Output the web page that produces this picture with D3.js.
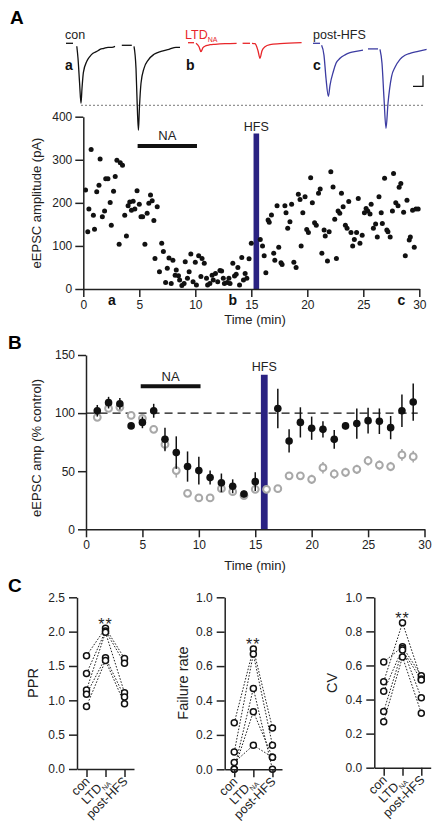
<!DOCTYPE html>
<html><head><meta charset="utf-8">
<script src="https://cdn.jsdelivr.net/npm/d3@7"></script>
<style>body{margin:0;background:#fff} svg{display:block;font-family:"Liberation Sans",Arial,Helvetica,sans-serif}</style>
</head><body><svg id="c" width="441" height="834"></svg>
<script>
// ---------------- DATA ----------------
// Panel A example traces (ms, pA), segments separated by artifact gaps
const traceCon = [
  [[0,0],[3.5,0]],
  [[5.4,-15],[6,-75],[6.8,-200],[7.5,-300],[8,-225],[8.7,-145],[10.4,-90],[12,-65],[13.5,-50],[15.5,-40],[17,-30],[19,-25],[21,-20],[23,-20],[24.5,-15]],
  [[27.9,-10],[32.9,-10]],
  [[34,-15],[35,-125],[35.5,-275],[36.2,-435],[36.7,-325],[37.5,-200],[39,-125],[41,-85],[44,-55],[47.5,-40],[51.5,-30],[55,-20],[57,-20]]
];
const traceLTD = [
  [[1.5,0],[4.5,0]],
  [[5.5,-3],[7,-20],[8,-45],[9,-25],[10.5,-15],[12.5,-10],[15,-8],[20,-5],[25.8,-3]],
  [[28.8,-3],[32.5,-3]],
  [[33.5,-3],[35,-5],[36.5,-40],[37.5,-78],[38.5,-40],[40,-20],[42.5,-10],[47.5,-5],[58.3,0]]
];
const tracePost = [
  [[0,0],[3.5,0]],
  [[4.3,-10],[5.5,-60],[6.5,-175],[7.7,-265],[8.5,-210],[10.2,-140],[11.5,-100],[13.5,-75],[16,-58],[18.5,-47],[21.5,-40],[25,-34]],
  [[27.5,-28],[32.5,-28]],
  [[33.5,-30],[34.5,-100],[35.5,-275],[36.5,-425],[37.5,-300],[39.3,-165],[41,-120],[43.5,-80],[46,-60],[48.5,-50],[52.5,-40],[56.8,-30]]
];

// Panel A time course: [time (min), eEPSC amplitude (pA)]
const ampTimeCourse = [
 [0.2,230],[0.4,133],[0.5,186],[0.7,324],[0.9,171],[1.0,139],[1.2,226],[1.4,241],[1.5,302],[1.7,168],[1.9,181],[2.0,256],[2.2,256],[2.4,201],[2.5,148],[2.7,227],[2.85,261],[3.0,299],[3.2,104],[3.3,293],[3.5,287],[3.7,171],[3.85,123],[4.0,193],[4.15,202],[4.3,183],[4.45,204],[4.6,186],[4.8,228],[5.0,197],[5.15,168],[5.3,168],[5.5,104],[5.7,176],[5.85,199],[6.0,218],[6.15,205],[6.3,159],[6.4,71],[6.6,191],[6.8,40],[7.0,106],[7.15,87],[7.35,15],[7.5,48],[7.65,72],[7.85,13],[8.0,67],[8.2,32],[8.3,44],[8.5,31],[8.6,21],[8.8,8],[9.0,13],[9.1,63],[9.3,25],[9.45,40],[9.6,81],[9.8,17],[10.0,62],[10.1,9],[10.3,77],[10.5,29],[10.6,71],[10.8,60],[11.0,25],[11.1,9],[11.3,13],[11.5,32],[11.6,21],[11.8,36],[12.0,17],
 [12.2,43],[12.35,42],[12.5,25],[12.6,13],[12.85,15],[13.0,25],[13.1,13],[13.35,60],[13.5,30],[13.65,34],[13.8,50],[13.95,9],[14.15,73],[14.3,21],[14.45,36],[14.6,25],[14.8,70],[15.0,106],
 [15.8,115],[16.0,100],[16.15,77],[16.3,38],[16.5,160],[16.6,155],[16.8,172],[17.0,83],[17.1,67],[17.3,193],[17.45,97],[17.65,61],[17.75,57],[18.0,193],[18.1,177],[18.25,141],[18.45,156],[18.6,197],[18.8,62],[19.0,50],[19.2,220],[19.35,208],[19.45,100],[19.6,177],[19.8,214],[19.95,138],[20.1,131],[20.3,258],[20.45,200],[20.65,154],[20.8,148],[21.0,222],[21.15,232],[21.3,83],[21.5,137],[21.6,123],[21.8,65],[21.95,133],[22.1,272],[22.3,237],[22.45,162],[22.6,71],[22.75,181],[22.9,176],[23.05,222],[23.2,191],[23.4,148],[23.55,141],[23.7,203],[23.9,131],[24.05,100],[24.2,115],[24.4,131],[24.55,210],[24.7,106],[24.9,125],[25.1,177],[25.25,187],[25.4,181],[25.6,174],[25.7,197],[25.9,141],[26.1,151],[26.25,121],[26.4,214],[26.6,177],[26.7,152],[26.9,257],[27.1,137],[27.2,133],[27.4,121],[27.6,181],[27.7,268],[27.9,200],[28.1,193],[28.2,236],[28.35,245],[28.6,178],[28.75,77],[28.9,206],[29.1,114],[29.2,121],[29.4,183],[29.55,97],[29.7,186],[29.9,186]
];
const naPeriod = [4.85, 10.15];
const hfsPeriodA = [15.2, 15.7];
const markLetters = [["a",2.55],["b",13.35],["c",28.4]];
const ticksA_y = [0,100,200,300,400];
const ticksTime = [0,5,10,15,20,25,30];

// Panel B: normalized eEPSC amplitude (% control)
const bBlackTime = [1,2,3,4,5,6,7,8,9,10,11,12,13,14,15,17,18,19,20,21,22,23,24,25,26,27,28,29];
const bBlackMean = [102,109,108,89,92,102,77.5,66,54,50.5,44.5,40,37,30.4,41,104,76,92,87,86,77.4,89,91,93.5,93,87.5,102,109.5];
const bBlackErr  = [5,5,5,2,5,6,10,14,13,12,6,8,6,3,8,17,10,13,10,7,8,3,13,11,11,10,14,16];
const bGrayTime = [1,2,3,4,5,6,7,8,9,10,11,12,13,14,15,16,17,18,19,20,21,22,23,24,25,26,27,28,29];
const bGrayMean = [96.4,104,105,98,95.5,86,73,50.5,31,27,27,35,32.4,29,34.4,34.4,35,46,46,43,53,47.6,49,51.6,59,55.3,54,64,62.5];
const bGrayErr  = [3,2,2,2,2,3,6,6,3,2,2,3,3,3,3,3,3,3,3,4,5,4,4,4,4,4,4,5,5];
const hfsPeriodB = [15.5, 16.1];
const ticksB_y = [0,50,100,150];

// Panel C: per-cell values [con, LTD_NA, post-HFS]
const conditions = ["con","LTD","post-HFS"];
const pprCells = [[1.65,2.05,1.61],[1.39,2.01,1.54],[1.15,1.99,1.11],[1.09,1.62,1.05],[0.91,1.58,0.95]];
const failCells = [[0.27,0.70,0.24],[0.10,0.67,0.14],[0.00,0.47,0.00],[0.00,0.335,0.07],[0.04,0.14,0.07]];
const cvCells = [[0.62,0.71,0.54],[0.505,0.85,0.52],[0.448,0.70,0.41],[0.33,0.69,0.515],[0.27,0.65,0.32]];
const pprTicks = [0,0.5,1.0,1.5,2.0,2.5];
const fracTicks = [0,0.2,0.4,0.6,0.8,1.0];

// ---------------- DRAW ----------------
const svg = d3.select("#c");
const INK = "#222";
const NAVY = "#2a2282";

function styleAxis(g, fs){
  g.selectAll("path,line").attr("stroke",INK).attr("stroke-width",1.5);
  g.selectAll("text").attr("fill",INK).attr("font-size",fs||12).attr("font-family",'"Liberation Sans",Arial,sans-serif');
}
function label(x,y,txt,opt){
  opt=opt||{};
  const t=svg.append("text").attr("x",x).attr("y",y).text(txt)
    .attr("font-size",opt.fs||13).attr("fill",opt.fill||INK)
    .attr("text-anchor",opt.anchor||"middle")
    .attr("font-weight",opt.bold?"bold":"normal");
  if(opt.rot) t.attr("transform",`rotate(${opt.rot},${x},${y})`);
  return t;
}

// Panel letters
label(10,24,"A",{fs:19,bold:true,anchor:"start",fill:"#000"});
label(8,349,"B",{fs:19,bold:true,anchor:"start",fill:"#000"});
label(8,592,"C",{fs:19,bold:true,anchor:"start",fill:"#000"});

// ---- Traces ----
function drawTrace(data,left,base,color){
  const x=d3.scaleLinear().domain([0,57.5]).range([left,left+115]);
  const y=d3.scaleLinear().domain([0,-500]).range([base,base+100]);
  const line=d3.line().x(d=>x(d[0])).y(d=>y(d[1])).curve(d3.curveMonotoneX);
  data.forEach(seg=>{
    svg.append("path").attr("d",line(seg)).attr("fill","none")
      .attr("stroke",color).attr("stroke-width",1.3).attr("stroke-linejoin","round");
  });
  return {x,y};
}
// dashed reference line at con first-peak level
svg.append("line").attr("x1",81).attr("x2",425).attr("y1",105.3).attr("y2",105.3)
  .attr("stroke","#555").attr("stroke-width",0.8).attr("stroke-dasharray","2,2");
drawTrace(traceCon,66,43.3,"#111");
drawTrace(traceLTD,185,42.7,"#e8262a");
const tp = drawTrace(tracePost,313,43.3,"#3c3ca2");
label(65,38.5,"con",{fs:12.5,anchor:"start"});
const ltdT = label(185,38.5,"LTD",{fs:12.5,anchor:"start",fill:"#e8262a"});
ltdT.append("tspan").attr("font-size",7).attr("dy",3).text("NA");
label(313,38.5,"post-HFS",{fs:12.5,anchor:"start"});
label(65,70,"a",{fs:14,bold:true,anchor:"start",fill:"#111"});
label(186,70,"b",{fs:14,bold:true,anchor:"start",fill:"#111"});
label(313,70,"c",{fs:14,bold:true,anchor:"start",fill:"#111"});
// scale bar
svg.append("path").attr("d",`M${tp.x(50)},${tp.y(-215)}H${tp.x(55)}V${tp.y(-160)}`)
  .attr("fill","none").attr("stroke","#111").attr("stroke-width",1.3);

// ---- Panel A time course ----
const xA=d3.scaleLinear().domain([0,30]).range([83.3,419.3]);
const yA=d3.scaleLinear().domain([0,400]).range([289,116.7]);
// HFS bar
svg.append("rect").attr("x",xA(hfsPeriodA[0])).attr("width",xA(hfsPeriodA[1])-xA(hfsPeriodA[0]))
  .attr("y",yA(361)).attr("height",yA(0)-yA(361)).attr("fill",NAVY);
label((xA(hfsPeriodA[0])+xA(hfsPeriodA[1]))/2,130.5,"HFS",{fs:12.5});
// NA bar
svg.append("line").attr("x1",xA(naPeriod[0])).attr("x2",xA(naPeriod[1])).attr("y1",yA(332)).attr("y2",yA(332))
  .attr("stroke","#111").attr("stroke-width",4);
label(xA((naPeriod[0]+naPeriod[1])/2),140,"NA",{fs:13});
// dots
svg.append("g").selectAll("circle").data(ampTimeCourse).join("circle")
  .attr("cx",d=>xA(d[0])).attr("cy",d=>yA(d[1])).attr("r",2.5).attr("fill","#111");
// axes
const gAy=svg.append("g").attr("transform",`translate(${xA(0)},0)`)
  .call(d3.axisLeft(yA).tickValues(ticksA_y).tickSize(8).tickSizeOuter(0).tickPadding(3));
styleAxis(gAy);
const gAx=svg.append("g").attr("transform",`translate(0,${yA(0)})`)
  .call(d3.axisBottom(xA).tickValues(ticksTime).tickSize(8).tickSizeOuter(0).tickPadding(3));
styleAxis(gAx);
markLetters.forEach(m=>label(xA(m[1]),305,m[0],{fs:14,bold:true,fill:"#111"}));
label(255,324,"Time (min)",{fs:13});
label(41,203,"eEPSC amplitude (pA)",{fs:13,rot:-90});

// ---- Panel B ----
const xB=d3.scaleLinear().domain([0,30]).range([86,424.5]);
const yB=d3.scaleLinear().domain([0,150]).range([529.3,355]);
svg.append("line").attr("x1",xB(0.05)).attr("x2",xB(29.4)).attr("y1",yB(100)).attr("y2",yB(100))
  .attr("stroke","#111").attr("stroke-width",1.4).attr("stroke-dasharray","8,5");
svg.append("rect").attr("x",xB(hfsPeriodB[0])).attr("width",xB(hfsPeriodB[1])-xB(hfsPeriodB[0]))
  .attr("y",yB(133)).attr("height",yB(0)-yB(133)).attr("fill",NAVY);
label((xB(hfsPeriodB[0])+xB(hfsPeriodB[1]))/2,370.5,"HFS",{fs:12.5});
svg.append("line").attr("x1",xB(naPeriod[0])).attr("x2",xB(naPeriod[1])).attr("y1",yB(123)).attr("y2",yB(123))
  .attr("stroke","#111").attr("stroke-width",4);
label(xB((naPeriod[0]+naPeriod[1])/2),381,"NA",{fs:13});
// gray series
const gray=bGrayTime.map((t,i)=>({t,m:bGrayMean[i],e:bGrayErr[i]}));
const black=bBlackTime.map((t,i)=>({t,m:bBlackMean[i],e:bBlackErr[i]}));
svg.append("g").selectAll("line").data(gray).join("line")
  .attr("x1",d=>xB(d.t)).attr("x2",d=>xB(d.t)).attr("y1",d=>yB(d.m-d.e)).attr("y2",d=>yB(d.m+d.e))
  .attr("stroke","#a8a8a8").attr("stroke-width",1.6);
svg.append("g").selectAll("circle").data(gray).join("circle")
  .attr("cx",d=>xB(d.t)).attr("cy",d=>yB(d.m)).attr("r",3.4).attr("fill","#fff")
  .attr("stroke","#a8a8a8").attr("stroke-width",2);
svg.append("g").selectAll("line").data(black).join("line")
  .attr("x1",d=>xB(d.t)).attr("x2",d=>xB(d.t)).attr("y1",d=>yB(d.m-d.e)).attr("y2",d=>yB(d.m+d.e))
  .attr("stroke","#111").attr("stroke-width",1.5);
svg.append("g").selectAll("circle").data(black).join("circle")
  .attr("cx",d=>xB(d.t)).attr("cy",d=>yB(d.m)).attr("r",3.8).attr("fill","#111");
const gBy=svg.append("g").attr("transform",`translate(${xB(0)},0)`)
  .call(d3.axisLeft(yB).tickValues(ticksB_y).tickSize(8).tickSizeOuter(0).tickPadding(3));
styleAxis(gBy);
const gBx=svg.append("g").attr("transform",`translate(0,${yB(0)})`)
  .call(d3.axisBottom(xB).tickValues(ticksTime).tickSize(8).tickSizeOuter(0).tickPadding(3));
styleAxis(gBx);
label(255,570,"Time (min)",{fs:13});
label(41,448,"eEPSC amp (% control)",{fs:13,rot:-90});

// ---- Panel C ----
function drawC(cells,yMax,ticks,fmt,axX,right,y0,y1,title,titleX,starsY){
  const x=d3.scalePoint().domain(conditions).range([axX,right]).padding(0.5);
  const y=d3.scaleLinear().domain([0,yMax]).range([y0,y1]);
  const line=d3.line().x((d,i)=>x(conditions[i])).y(d=>y(d));
  const g=svg.append("g");
  cells.forEach(c=>{
    g.append("path").attr("d",line(c)).attr("fill","none").attr("stroke","#222")
      .attr("stroke-width",1).attr("stroke-dasharray","1.6,1.6");
  });
  cells.forEach(c=>c.forEach((v,i)=>{
    g.append("circle").attr("cx",x(conditions[i])).attr("cy",y(v)).attr("r",3)
      .attr("fill","#fff").attr("stroke","#111").attr("stroke-width",1.5);
  }));
  const gy=svg.append("g").attr("transform",`translate(${axX},0)`)
    .call(d3.axisLeft(y).tickValues(ticks).tickFormat(fmt).tickSize(8).tickSizeOuter(0).tickPadding(4));
  styleAxis(gy);
  const gx=svg.append("g").attr("transform",`translate(0,${y0})`)
    .call(d3.axisBottom(x).tickSize(8).tickSizeOuter(0).tickFormat(""));
  styleAxis(gx);
  // rotated category labels
  conditions.forEach(c=>{
    const px=x(c)+4, py=y0+13;
    const t=svg.append("text").attr("x",px).attr("y",py).attr("text-anchor","end")
      .attr("font-size",12.5).attr("fill",INK).attr("transform",`rotate(-45,${px},${py})`);
    if(c==="LTD"){ t.text("LTD"); t.append("tspan").attr("font-size",7).attr("dy",3).text("NA"); }
    else t.text(c);
  });
  label(titleX,683,title,{fs:14.5,rot:-90}).attr("dy","0.35em");
  label(x("LTD"),starsY,"**",{fs:16}).attr("letter-spacing",1);
}
const f1=d3.format(".1f");
drawC(pprCells,2.5,pprTicks,f1,77,134,769,597.3,"PPR",33,630);
drawC(failCells,1.0,fracTicks,f1,224.7,282,769.3,597.3,"Failure rate",183,650);
drawC(cvCells,1.0,fracTicks,f1,374.3,430.7,767.7,597.3,"CV",332,624);
</script></body></html>
